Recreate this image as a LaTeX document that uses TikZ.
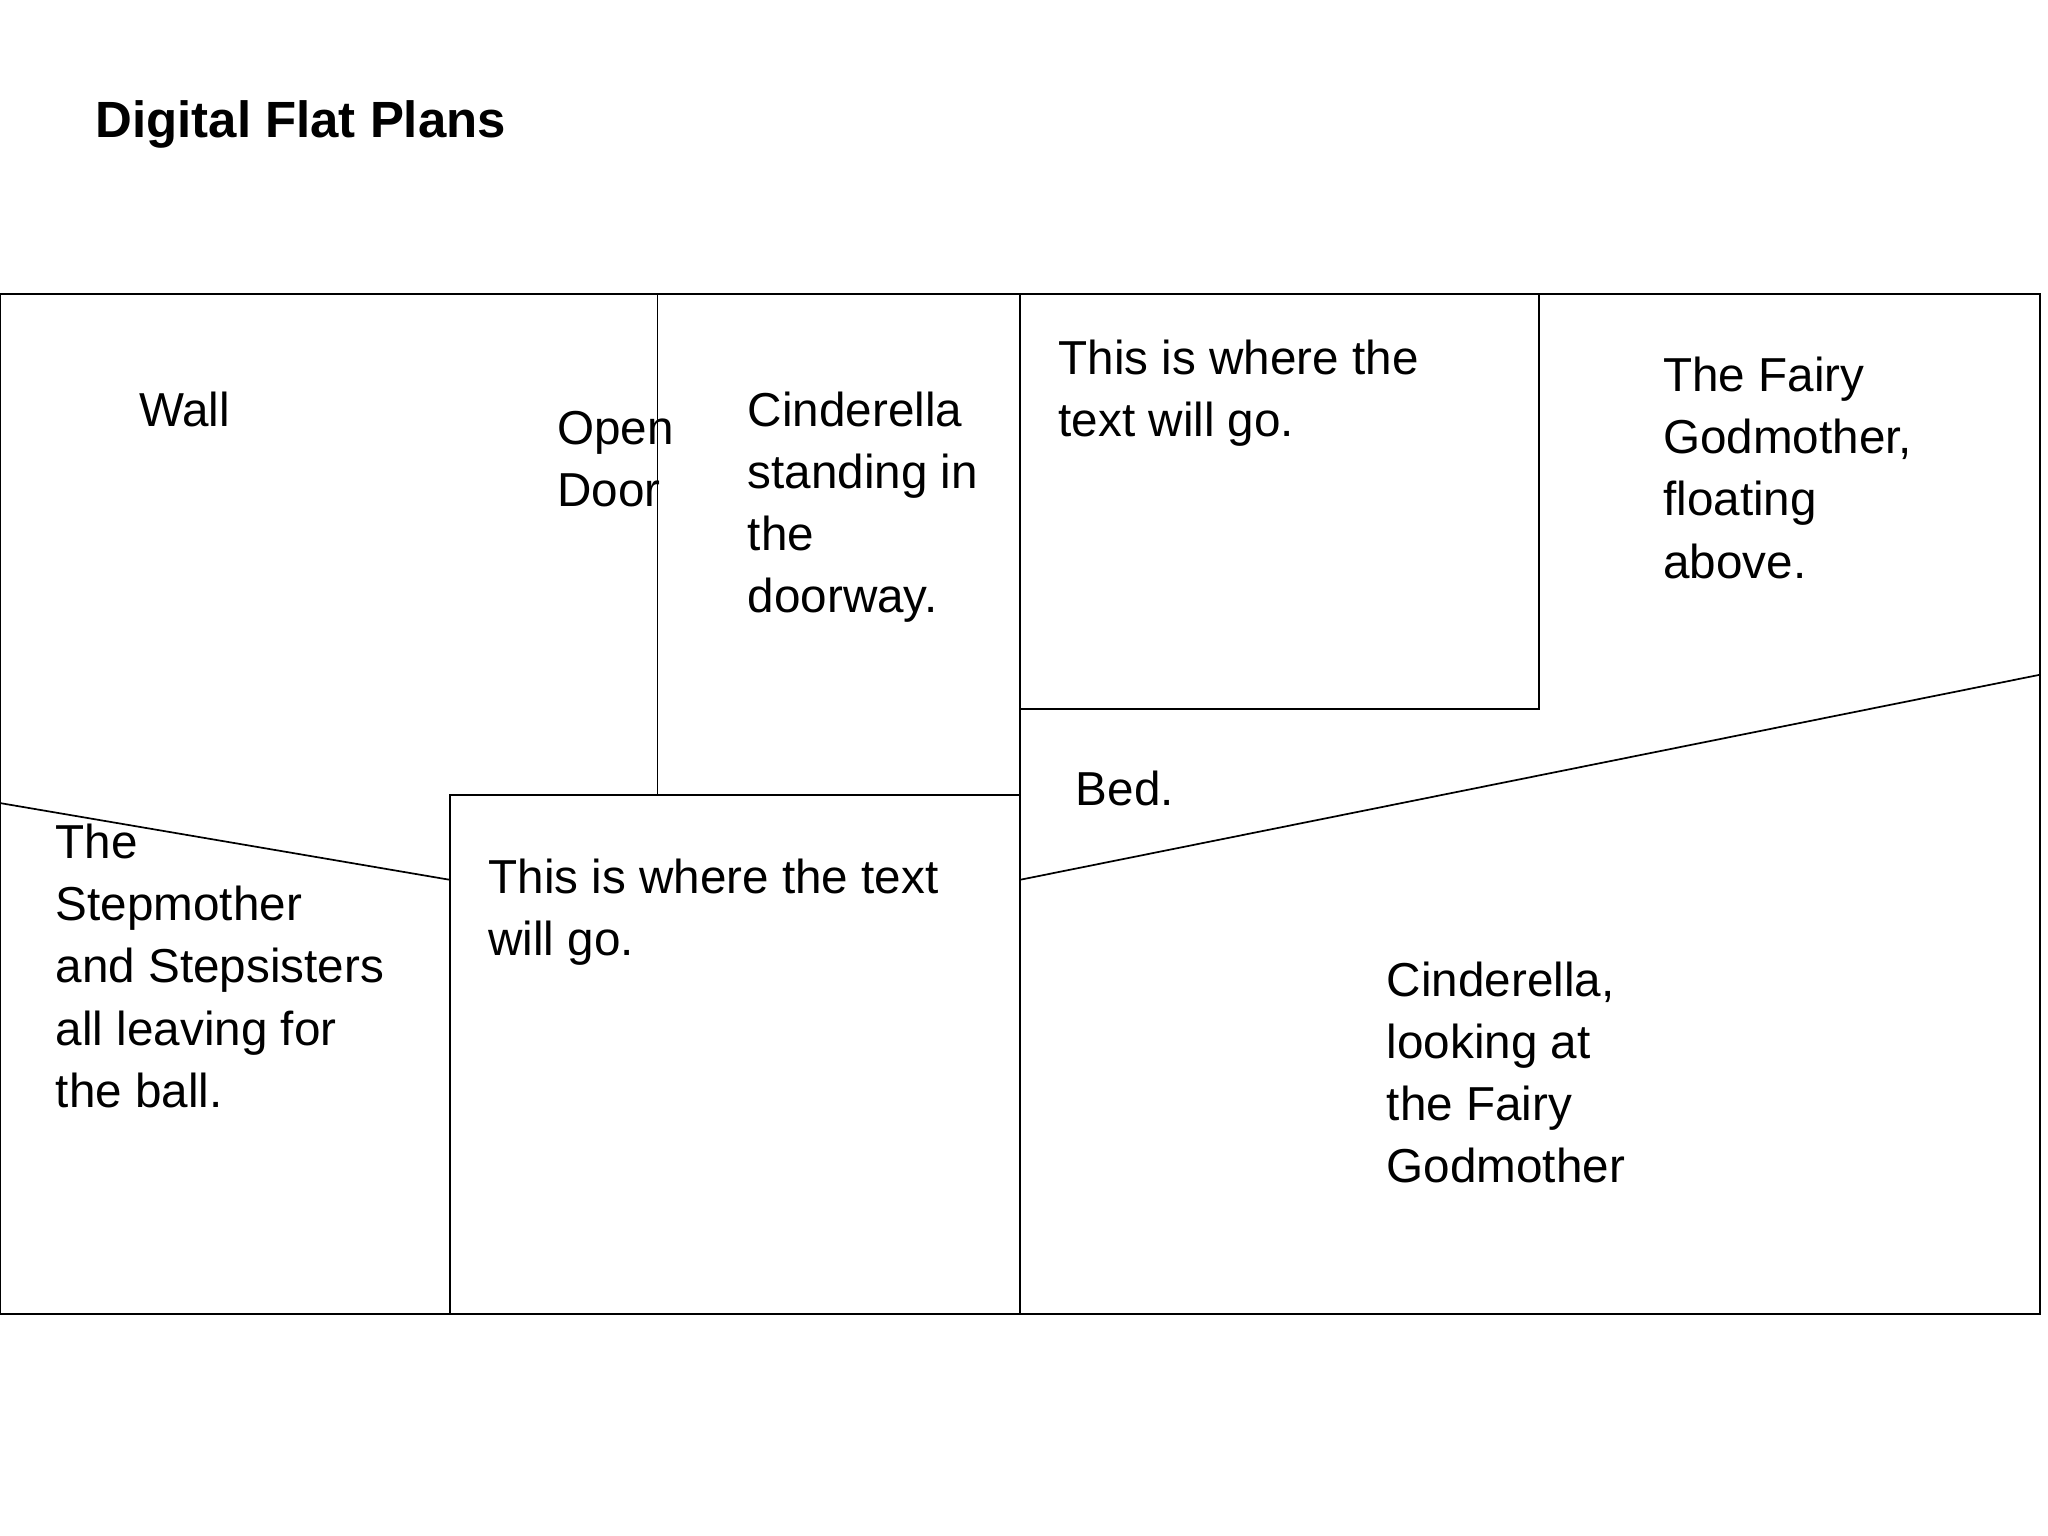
\documentclass[tikz,border=0pt]{standalone}
\usepackage{fontspec}
\setmainfont{Liberation Sans}
\begin{document}
\begin{tikzpicture}[x=1pt,y=-1pt,
  ln/.style={draw=black,line width=1.3pt},
  txt/.style={anchor=base west,inner sep=0pt,align=left,font=\fontsize{36}{47}\selectfont}]
\useasboundingbox (0,0) rectangle (1548,1161);
\draw[ln] (0,222) rectangle (1542,993);
\draw[ln] (497,222) -- (497,601);
\draw[ln] (771,222) -- (771,993);
\draw[ln] (771,222) rectangle (1163,536);
\draw[ln] (340,601) rectangle (771,993);
\draw[ln] (0,607) -- (340,665);
\draw[ln] (771,665) -- (1542,510);
\node[txt,font=\bfseries\fontsize{38.5}{47}\selectfont] (title) at (72,104) {Digital Flat Plans};
\node[txt] (wall) at (105,322) {Wall};
\node[txt] (door) at (421,383) {Open\\Door};
\node[txt] (cin1) at (565,463) {Cinderella\\standing in\\the\\doorway.};
\node[txt] (t1) at (800,330) {This is where the\\text will go.};
\node[txt] (fairy) at (1257,437) {The Fairy\\Godmother,\\floating\\above.};
\node[txt] (bed) at (813,609) {Bed.};
\node[txt] (step) at (42,837) {The\\Stepmother\\and Stepsisters\\all leaving for\\the ball.};
\node[txt] (t2) at (369,722) {This is where the text\\will go.};
\node[txt] (cin2) at (1048,894) {Cinderella,\\looking at\\the Fairy\\Godmother};
\end{tikzpicture}
\end{document}
